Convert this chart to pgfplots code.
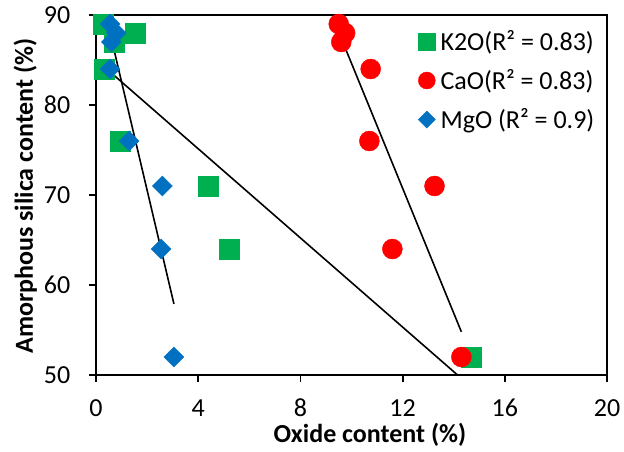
\documentclass[border=0pt]{standalone}
\usepackage{pgfplots}
\pgfplotsset{compat=1.18}
\usepackage{fontspec}
\setmainfont{Carlito}
\definecolor{kgreen}{HTML}{00B050}
\definecolor{cred}{HTML}{FF0000}
\definecolor{mblue}{HTML}{0070C0}
\begin{document}
\begin{tikzpicture}
\begin{axis}[
  name=ax,
  scale only axis, width=511bp, height=360bp,
  xmin=0, xmax=20, ymin=50, ymax=90,
  xtick={0,4,8,12,16,20}, ytick={50,60,70,80,90},
  axis line style={line width=1.8bp, black},
  every tick/.style={black, line width=1.8bp},
  tick align=outside, major tick length=7bp,
  xtick pos=bottom, ytick pos=left,
  /pgf/number format/assume math mode=true,
  tick label style={font=\fontsize{26bp}{30bp}\selectfont},
  xticklabel style={anchor=base, inner sep=0pt, yshift=-34bp},
  yticklabel style={anchor=east, inner sep=0pt, xshift=-18.5bp},
  label style={font=\bfseries\fontsize{26bp}{30bp}\selectfont},
  xlabel={Oxide content (\%)},
  ylabel={Amorphous silica content (\%)},
  xlabel style={at={(axis description cs:0.536,-0.188)}, anchor=base},
  ylabel style={at={(axis description cs:-0.1233,0.497)}, anchor=base},
  clip=false,
  legend cell align=left,
  legend style={draw=none, fill=none, at={(axis description cs:0.630,0.957)}, anchor=north west,
    font=\fontsize{26bp}{30bp}\selectfont, row sep=17.5bp, column sep=5bp, inner sep=0pt,
    nodes={inner sep=0pt}},
  legend image code/.code={\draw[#1, every mark/.append style={scale=0.85}] plot coordinates {(8.5bp,0bp)}; \path (0bp,0bp) (17bp,0bp);},
]
\addplot[only marks, mark=square*, color=kgreen, mark size=10bp] coordinates {
  (0.3,89) (0.7,87) (1.54,88) (0.34,84) (0.95,76) (4.4,71) (5.2,64) (14.7,52)};
\addlegendentry{K2O(R² = 0.83)}
\addplot[only marks, mark=*, color=cred, mark size=10bp] coordinates {
  (9.5,89) (9.75,88) (9.6,87) (10.75,84) (10.7,76) (13.25,71) (11.6,64) (14.3,52)};
\addlegendentry{CaO(R² = 0.83)}
\addplot[only marks, mark=square*, color=mblue, mark size=7.07bp, mark options={rotate=45}] coordinates {
  (0.55,89) (0.8,88) (0.6,87) (0.55,84) (1.3,76) (2.6,71) (2.55,64) (3.05,52)};
\addlegendentry{MgO (R² = 0.9)}
\addplot[black, line width=1.6bp, forget plot] coordinates {(0.3,84.3) (14.15,50)};
\addplot[black, line width=1.6bp, forget plot] coordinates {(9.5,88.1) (14.3,54.8)};
\addplot[black, line width=1.6bp, forget plot] coordinates {(0.55,88.0) (3.05,57.9)};
\end{axis}
\path ([shift={(-96bp,-77bp)}]ax.south west) rectangle ([shift={(17bp,15bp)}]ax.north east);
\end{tikzpicture}
\end{document}
